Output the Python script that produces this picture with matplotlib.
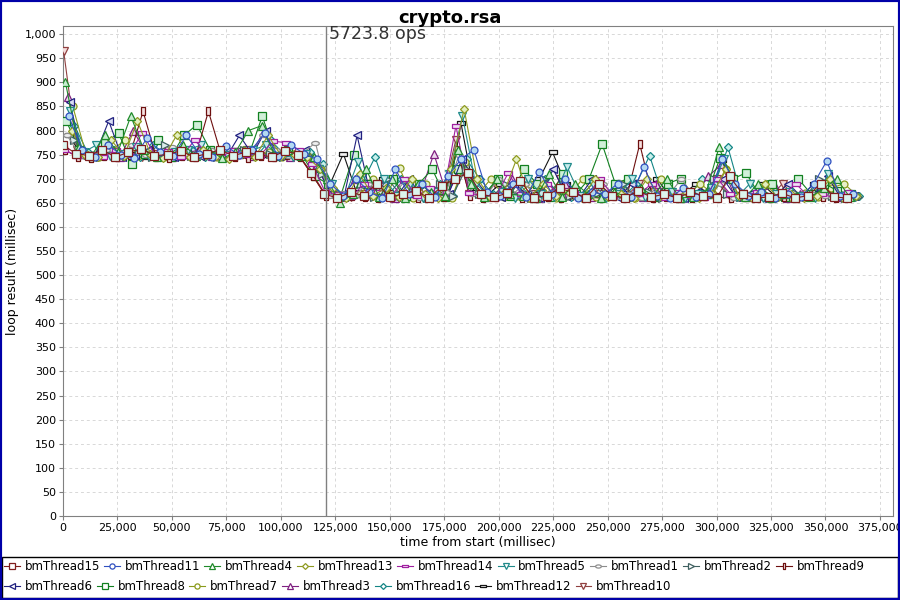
import matplotlib
matplotlib.use("Agg")
import matplotlib.pyplot as plt
import numpy as np
from matplotlib.lines import Line2D
from matplotlib.patches import Rectangle
from matplotlib.ticker import FuncFormatter, MultipleLocator

# sample times (ms) shared by all threads, plus each thread's start offset
t_base = [0, 6000, 12000, 18000, 24000, 30000, 36000, 42000, 48000, 54000,
          60000, 66000, 72000, 78000, 84000, 90000, 96000, 102000, 108000, 114000,
          120000, 126000, 132000, 138000, 144000, 150000, 156000, 162000, 168000, 174000,
          180000, 186000, 192000, 198000, 204000, 210000, 216000, 222000, 228000, 234000,
          240000, 246000, 252000, 258000, 264000, 270000, 276000, 282000, 288000, 294000,
          300000, 306000, 312000, 318000, 324000, 330000, 336000, 342000, 348000, 354000,
          360000]

names = ['bmThread15', 'bmThread11', 'bmThread4', 'bmThread13', 'bmThread14',
         'bmThread5', 'bmThread1', 'bmThread2', 'bmThread9', 'bmThread6',
         'bmThread8', 'bmThread7', 'bmThread3', 'bmThread16', 'bmThread12',
         'bmThread10']
t_offset = [0, 2625, 1125, 4125, 375, 3375, 1875, 4875, 750, 3000,
            1500, 4500, 2250, 5250, 2700, 300]

thread15 = [770, 752, 748, 760, 745, 755, 762, 748, 750, 758, 745, 752, 760, 748, 755, 750, 745, 758, 750,
            712, 668,
            660, 672, 665, 690, 662, 668, 675, 660, 685, 700,
            712, 668, 662, 670, 695, 660, 665, 680, 672, 660,
            690, 665, 660, 675, 662, 668, 660, 672, 665, 660,
            705, 668, 660, 662, 670, 660, 665, 690, 662, 660]
thread11 = [830, 760, 745, 770, 750, 742, 785, 755, 748, 790, 752, 745, 768, 750, 760, 795, 748, 770, 752,
            740, 690,
            665, 700, 672, 660, 720, 668, 690, 662, 705, 740,
            760, 672, 665, 690, 662, 715, 668, 700, 660, 672,
            668, 690, 662, 725, 665, 660, 680, 662, 668, 740,
            690, 665, 672, 660, 668, 662, 690, 737, 665, 668]
thread4 = [900, 765, 748, 790, 755, 830, 760, 745, 752, 770, 748, 760, 742, 755, 800, 810, 750, 760, 748,
           745, 700,
           650, 668, 720, 662, 700, 660, 690, 672, 665, 760,
           690, 662, 700, 668, 665, 660, 710, 662, 690, 668,
           660, 672, 662, 680, 665, 700, 660, 662, 670, 765,
           700, 662, 690, 660, 668, 665, 662, 680, 700, 662]
thread13 = [800, 750, 745, 780, 748, 820, 752, 742, 790, 745, 760, 748, 740, 752, 745, 790, 748, 752, 745,
            720, 680,
            660, 710, 665, 680, 662, 700, 668, 660, 720, 845,
            700, 662, 668, 740, 660, 690, 665, 672, 660, 700,
            662, 668, 660, 700, 665, 662, 672, 660, 668, 720,
            665, 660, 690, 662, 668, 660, 665, 700, 660, 665]
thread14 = [760, 748, 752, 745, 760, 750, 795, 748, 758, 745, 780, 752, 745, 760, 750, 748, 778, 775, 760,
            730, 672,
            668, 662, 690, 672, 660, 700, 665, 680, 662, 810,
            670, 665, 660, 712, 668, 662, 690, 665, 670, 662,
            700, 665, 662, 668, 690, 660, 672, 665, 660, 700,
            668, 662, 672, 660, 665, 690, 662, 668, 660, 672]
thread5 = [840, 755, 770, 748, 752, 765, 748, 745, 755, 760, 770, 748, 750, 752, 760, 770, 748, 745, 752,
           720, 690,
           662, 735, 668, 700, 665, 690, 660, 672, 710, 830,
           690, 665, 672, 660, 700, 668, 662, 725, 665, 690,
           660, 668, 700, 662, 665, 672, 660, 668, 680, 740,
           662, 690, 660, 668, 672, 665, 660, 710, 665, 662]
thread1 = [790, 748, 752, 760, 745, 770, 750, 748, 765, 752, 748, 760, 750, 745, 755, 790, 760, 748, 752,
           775, 665,
           670, 665, 690, 662, 668, 700, 660, 665, 672, 750,
           668, 662, 700, 665, 690, 660, 672, 668, 662, 665,
           690, 662, 668, 660, 672, 665, 700, 662, 668, 690,
           660, 668, 665, 662, 672, 660, 668, 665, 662, 668]
thread2 = [780, 752, 745, 760, 748, 755, 745, 770, 750, 748, 758, 745, 752, 760, 748, 752, 745, 750, 748,
           710, 668,
           665, 690, 662, 700, 668, 672, 660, 690, 665, 720,
           668, 662, 690, 665, 660, 700, 672, 665, 662, 668,
           665, 690, 662, 672, 660, 668, 665, 662, 700, 668,
           662, 665, 668, 660, 672, 662, 700, 665, 660, 662]
thread9 = [760, 745, 742, 748, 745, 750, 840, 745, 742, 748, 745, 840, 748, 745, 742, 748, 745, 750, 745,
           705, 665,
           660, 665, 662, 660, 668, 662, 660, 665, 662, 760,
           665, 660, 662, 668, 660, 665, 662, 660, 668, 662,
           660, 665, 662, 772, 660, 662, 668, 660, 665, 662,
           660, 662, 665, 660, 662, 660, 665, 662, 660, 662]
thread6 = [860, 748, 752, 820, 745, 750, 760, 748, 745, 755, 748, 752, 745, 790, 750, 800, 748, 752, 760,
           720, 670,
           662, 790, 668, 690, 662, 700, 660, 672, 668, 740,
           700, 665, 662, 690, 668, 660, 720, 665, 662, 700,
           668, 660, 690, 662, 668, 665, 660, 672, 668, 700,
           662, 668, 660, 665, 690, 662, 668, 705, 660, 665]
thread8 = [820, 760, 748, 775, 795, 730, 752, 780, 745, 790, 812, 760, 748, 755, 752, 830, 748, 760, 752,
           705, 690,
           665, 750, 690, 672, 700, 665, 690, 720, 662, 720,
           690, 668, 700, 665, 720, 690, 662, 710, 668, 700,
           772, 690, 700, 668, 662, 690, 700, 665, 668, 742,
           700, 712, 668, 690, 662, 700, 668, 690, 675, 668]
thread7 = [850, 752, 745, 760, 780, 748, 752, 745, 758, 750, 748, 745, 752, 760, 748, 755, 745, 752, 748,
           720, 670,
           662, 668, 700, 665, 722, 660, 690, 665, 660, 735,
           668, 700, 662, 665, 690, 672, 660, 665, 700, 662,
           665, 690, 660, 668, 700, 662, 665, 690, 668, 720,
           662, 665, 690, 668, 660, 670, 662, 680, 690, 665]
thread3 = [870, 752, 748, 760, 745, 800, 752, 748, 745, 752, 760, 748, 745, 752, 748, 800, 752, 745, 750,
           725, 680,
           662, 700, 668, 690, 660, 665, 672, 752, 665, 720,
           690, 662, 668, 700, 665, 660, 672, 690, 668, 662,
           665, 668, 700, 662, 690, 665, 660, 668, 705, 730,
           665, 662, 668, 690, 660, 668, 665, 680, 662, 665]
thread16 = [810, 755, 748, 760, 752, 745, 770, 752, 748, 760, 745, 752, 748, 760, 750, 780, 752, 748, 755,
            730, 672,
            668, 690, 745, 665, 700, 662, 668, 690, 665, 740,
            700, 668, 665, 690, 660, 700, 672, 662, 665, 690,
            668, 662, 690, 748, 665, 668, 662, 700, 690, 765,
            668, 662, 690, 665, 660, 668, 690, 668, 662, 665]
thread12 = [790, 748, 752, 760, 745, 752, 745, 748, 760, 752, 748, 745, 752, 748, 755, 750, 748, 745, 752,
            720, 690,
            752, 672, 665, 700, 662, 668, 690, 665, 660, 815,
            672, 665, 690, 662, 668, 700, 755, 690, 665, 668,
            662, 690, 665, 668, 700, 662, 668, 690, 665, 738,
            668, 662, 690, 665, 668, 662, 690, 665, 668, 662]
thread10 = [965, 760, 745, 752, 748, 755, 745, 752, 760, 748, 745, 752, 748, 755, 760, 748, 745, 752, 748,
            712, 668,
            665, 662, 668, 690, 660, 665, 672, 662, 665, 780,
            668, 662, 690, 665, 660, 668, 662, 700, 665, 662,
            668, 665, 662, 690, 660, 668, 662, 665, 668, 700,
            662, 668, 665, 660, 690, 662, 665, 668, 662, 665]

series = [thread15, thread11, thread4, thread13, thread14, thread5, thread1, thread2,
          thread9, thread6, thread8, thread7, thread3, thread16, thread12, thread10]

ops_value = 5723.8
ops_time = 120700

# marker shapes
hrect = [(-1, -0.45), (1, -0.45), (1, 0.45), (-1, 0.45), (-1, -0.45)]
vrect = [(-0.45, -1), (0.45, -1), (0.45, 1), (-0.45, 1), (-0.45, -1)]
ang = np.linspace(0, 2 * np.pi, 25)
hellipse = list(zip(np.cos(ang), 0.55 * np.sin(ang)))

markers = ['s', 'o', '^', 'D', hrect, 'v', hellipse, '>', vrect, '<',
           's', 'o', '^', 'D', hrect, 'v']
colors = ['#7f1d1d', '#3050c0', '#1f8a2a', '#8f9a20', '#a020a0', '#208a8a',
          '#8c8c8c', '#3f6060', '#6e1010', '#20207f', '#128020', '#8a9a1a',
          '#7f2080', '#138585', '#141414', '#904040']
sizes = [6, 5, 5.5, 4, 5.5, 5.5, 5.5, 5.5, 5.5, 5.5, 5.5, 5, 5.5, 4, 5.5, 5.5]
fills = ['#dcf5ee', '#b4daf2', '#c8ecd0', '#e4f0c0', '#f0e0f4', '#c8ecec',
         '#eeeeee', '#dcecec', '#f4e0e0', '#d8dcf4', '#d0f0d8', '#e8f0c8',
         '#ecd8ec', '#c8f0ec', '#f0f0f0', '#f4dcdc']

fig = plt.figure(figsize=(9, 6), dpi=100)
ax = fig.add_axes([63 / 900, 84 / 600, 830 / 900, 490 / 600])

# JFreeChart draws the first series last (on top)
n = len(series)
for k in range(n - 1, -1, -1):
    x = np.array(t_base) + t_offset[k]
    ax.plot(x, series[k], color=colors[k], lw=0.8, marker=markers[k],
            ms=sizes[k], mec=colors[k], mfc=fills[k], mew=0.9, zorder=3 + (n - k) * 0.01)

ax.axvline(ops_time, color='#808080', lw=1, zorder=5)
ax.text(ops_time + 1200, 1020, '%.1f ops' % ops_value, fontsize=12.5,
        color='#333333', va='top', ha='left', zorder=6)

ax.set_xlim(0, 381000)
ax.set_ylim(0, 1017)
ax.xaxis.set_major_locator(MultipleLocator(25000))
ax.yaxis.set_major_locator(MultipleLocator(50))
fmt = FuncFormatter(lambda v, p: '{:,.0f}'.format(v))
ax.xaxis.set_major_formatter(fmt)
ax.yaxis.set_major_formatter(fmt)
ax.tick_params(labelsize=8, length=3, color='#808080', pad=2)
ax.grid(True, color='#d8d8d8', linestyle=(0, (3, 3)), lw=0.7, zorder=0)
ax.set_axisbelow(True)
for s in ax.spines.values():
    s.set_color('#808080')
ax.set_xlabel('time from start (millisec)', fontsize=9, labelpad=2)
ax.set_ylabel('loop result (millisec)', fontsize=9, labelpad=4)

fig.text(0.5, 0.985, 'crypto.rsa', ha='center', va='top', fontsize=13, fontweight='bold')

# legend, two flow rows
def handle(k):
    return Line2D([], [], color=colors[k], lw=0.8, marker=markers[k],
                  ms=sizes[k] * 0.75, mec=colors[k], mfc='white', mew=0.9)

row1 = list(range(0, 9))
row2 = list(range(9, 16))
kw = dict(frameon=False, fontsize=8.5, handlelength=1.35, handletextpad=0.4,
          columnspacing=0.35, borderaxespad=0, borderpad=0, loc='center left')
leg1 = fig.legend([handle(k) for k in row1], [names[k] for k in row1], ncol=len(row1),
                  bbox_to_anchor=(4 / 900, 1 - 567 / 600), **kw)
leg2 = fig.legend([handle(k) for k in row2], [names[k] for k in row2], ncol=len(row2),
                  bbox_to_anchor=(4 / 900, 1 - 587 / 600), **kw)

fig.patches.append(Rectangle((2 / 900, 2 / 600), 896 / 900, 41 / 600, transform=fig.transFigure,
                             fill=False, edgecolor='black', lw=1))
fig.patches.append(Rectangle((0, 0), 1, 1, transform=fig.transFigure,
                             fill=False, edgecolor='#0000a8', lw=3))

fig.savefig('out.png', dpi=100)
